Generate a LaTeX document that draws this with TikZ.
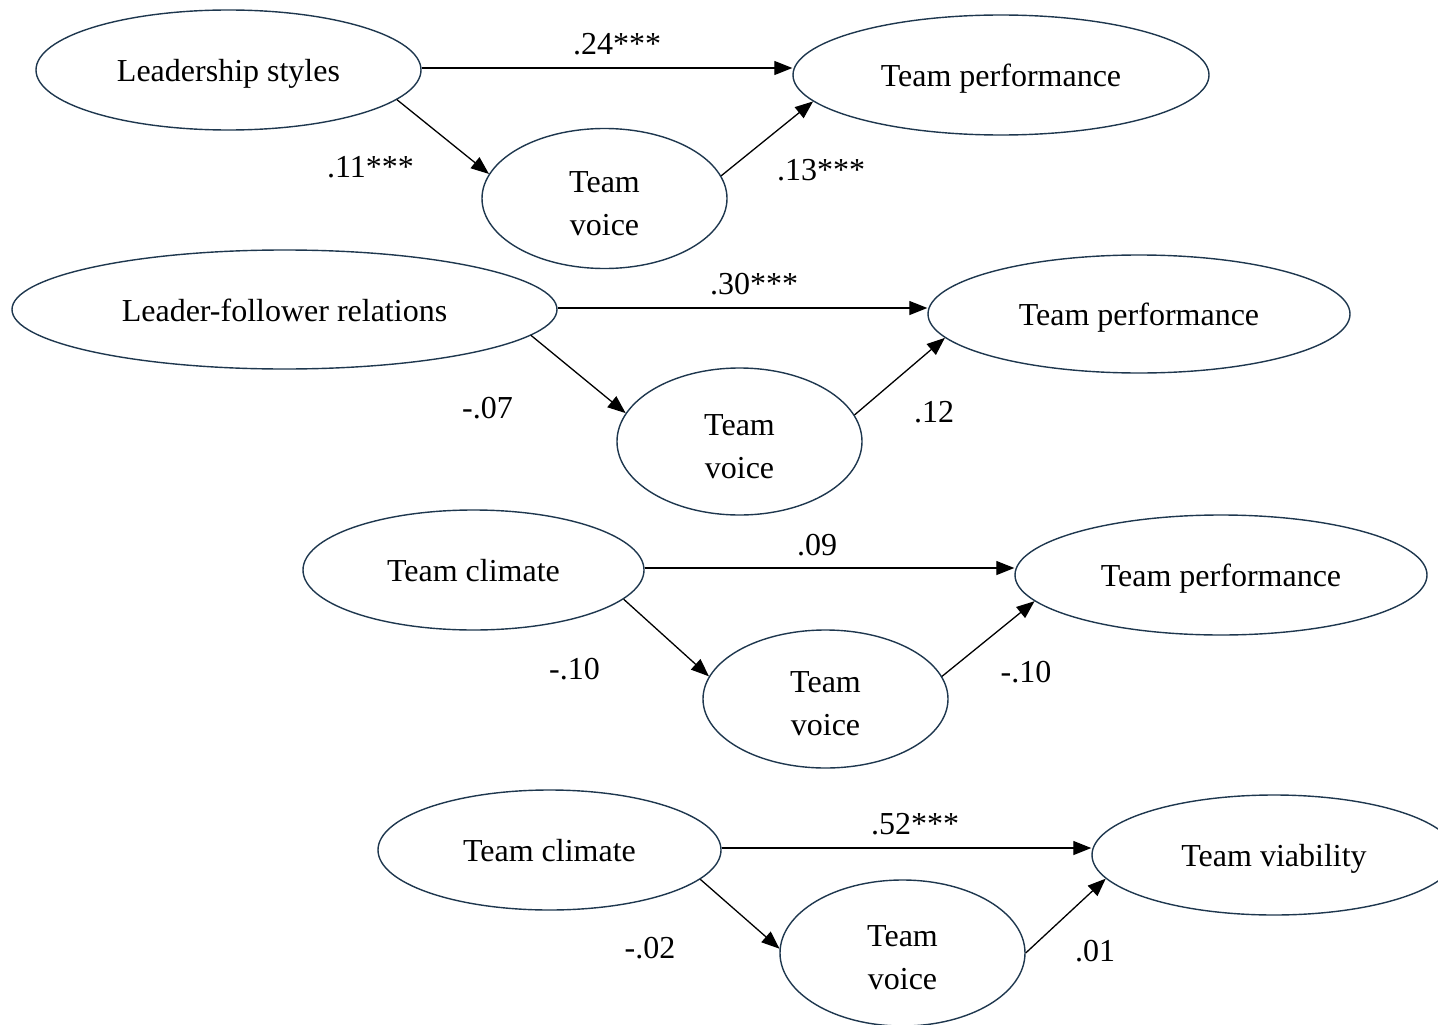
\documentclass[tikz,border=0pt]{standalone}
\usepackage{fontspec}
\setmainfont{Liberation Serif}
\usetikzlibrary{shapes.geometric,arrows.meta}
\definecolor{rim}{RGB}{30,55,78}
\begin{document}
\begin{tikzpicture}[x=1pt,y=-1pt,
  construct/.style={ellipse,draw=rim,line width=1.4pt,inner sep=0pt,
    font=\fontsize{32}{43}\selectfont},
  oneline/.style={construct,text height=30pt,text depth=6.6pt},
  twoline/.style={construct,align=center,minimum width=245pt},
  effect/.style={draw=black,line width=1.3pt,-{Triangle[length=18pt,width=14pt]}},
  coef/.style={anchor=base,inner sep=0pt,font=\fontsize{32}{43}\selectfont}]
\useasboundingbox (0,0) rectangle (1438,1025);

% ---- Model 1: leadership styles ----
\node[oneline,minimum width=385pt,minimum height=120pt] (ls)  at (228.5,70)  {Leadership styles};
\node[oneline,minimum width=416pt,minimum height=120pt] (tp1) at (1001,75)   {Team performance};
\node[twoline,minimum height=140pt] (tv1) at (604.5,198.5) {\rule{0pt}{31pt}Team\\voice};
\draw[effect] ([yshift=2pt]ls.east) -- ([yshift=2pt]ls.east -| tp1.west);
\draw[effect] (ls.-10.2) -- (tv1.168.4);
\draw[effect] (tv1.11.8) -- (tp1.188.2);
\node[coef] (c1) at (617,55)   {.24***};
\node[coef] (a1) at (370.5,177) {.11***};
\node[coef] (b1) at (821,180)  {.13***};

% ---- Model 2: leader-follower relations ----
\node[oneline,minimum width=545pt,minimum height=119pt] (lf)  at (284.5,309.5) {Leader-follower relations};
\node[oneline,minimum width=422pt,minimum height=118pt] (tp2) at (1139,314)    {Team performance};
\node[twoline,minimum height=147pt] (tv2) at (739.5,441.5) {\rule{0pt}{31pt}Team\\voice};
\draw[effect] ([yshift=1.5pt]lf.east) -- ([yshift=1.5pt]lf.east -| tp2.west);
\draw[effect] (lf.-6.6)  -- (tv2.166.5);
\draw[effect] (tv2.13.1) -- (tp2.187.75);
\node[coef] (c2) at (754,294)   {.30***};
\node[coef] (a2) at (487.5,418) {-.07};
\node[coef] (b2) at (934,422)   {.12};

% ---- Model 3: team climate and performance ----
\node[oneline,minimum width=341pt,minimum height=120pt] (tc3) at (473.5,570) {Team climate};
\node[oneline,minimum width=412pt,minimum height=120pt] (tp3) at (1221,575)  {Team performance};
\node[twoline,minimum height=138pt] (tv3) at (825.5,699) {\rule{0pt}{31pt}Team\\voice};
\draw[effect] ([yshift=2pt]tc3.east) -- ([yshift=2pt]tc3.east -| tp3.west);
\draw[effect] (tc3.-11.7) -- (tv3.169);
\draw[effect] (tv3.11)    -- (tp3.188.3);
\node[coef] (c3) at (817,555)   {.09};
\node[coef] (a3) at (574.5,679) {-.10};
\node[coef] (b3) at (1026,682)  {-.10};

% ---- Model 4: team climate and viability ----
\node[oneline,minimum width=343pt,minimum height=120pt] (tc4) at (549.5,850) {Team climate};
\node[oneline,minimum width=364pt,minimum height=120pt] (vi)  at (1274,855)  {Team viability};
\node[twoline,minimum height=146pt] (tv4) at (902.5,953) {\rule{0pt}{31pt}Team\\voice};
\draw[effect] ([yshift=2pt]tc4.east) -- ([yshift=2pt]tc4.east -| vi.west);
\draw[effect] (tc4.-11.65) -- (tv4.178.6);
\draw[effect] (tv4.0)      -- (vi.188.8);
\node[coef] (c4) at (915,834)  {.52***};
\node[coef] (a4) at (650,958)  {-.02};
\node[coef] (b4) at (1095,961) {.01};
\end{tikzpicture}
\end{document}
